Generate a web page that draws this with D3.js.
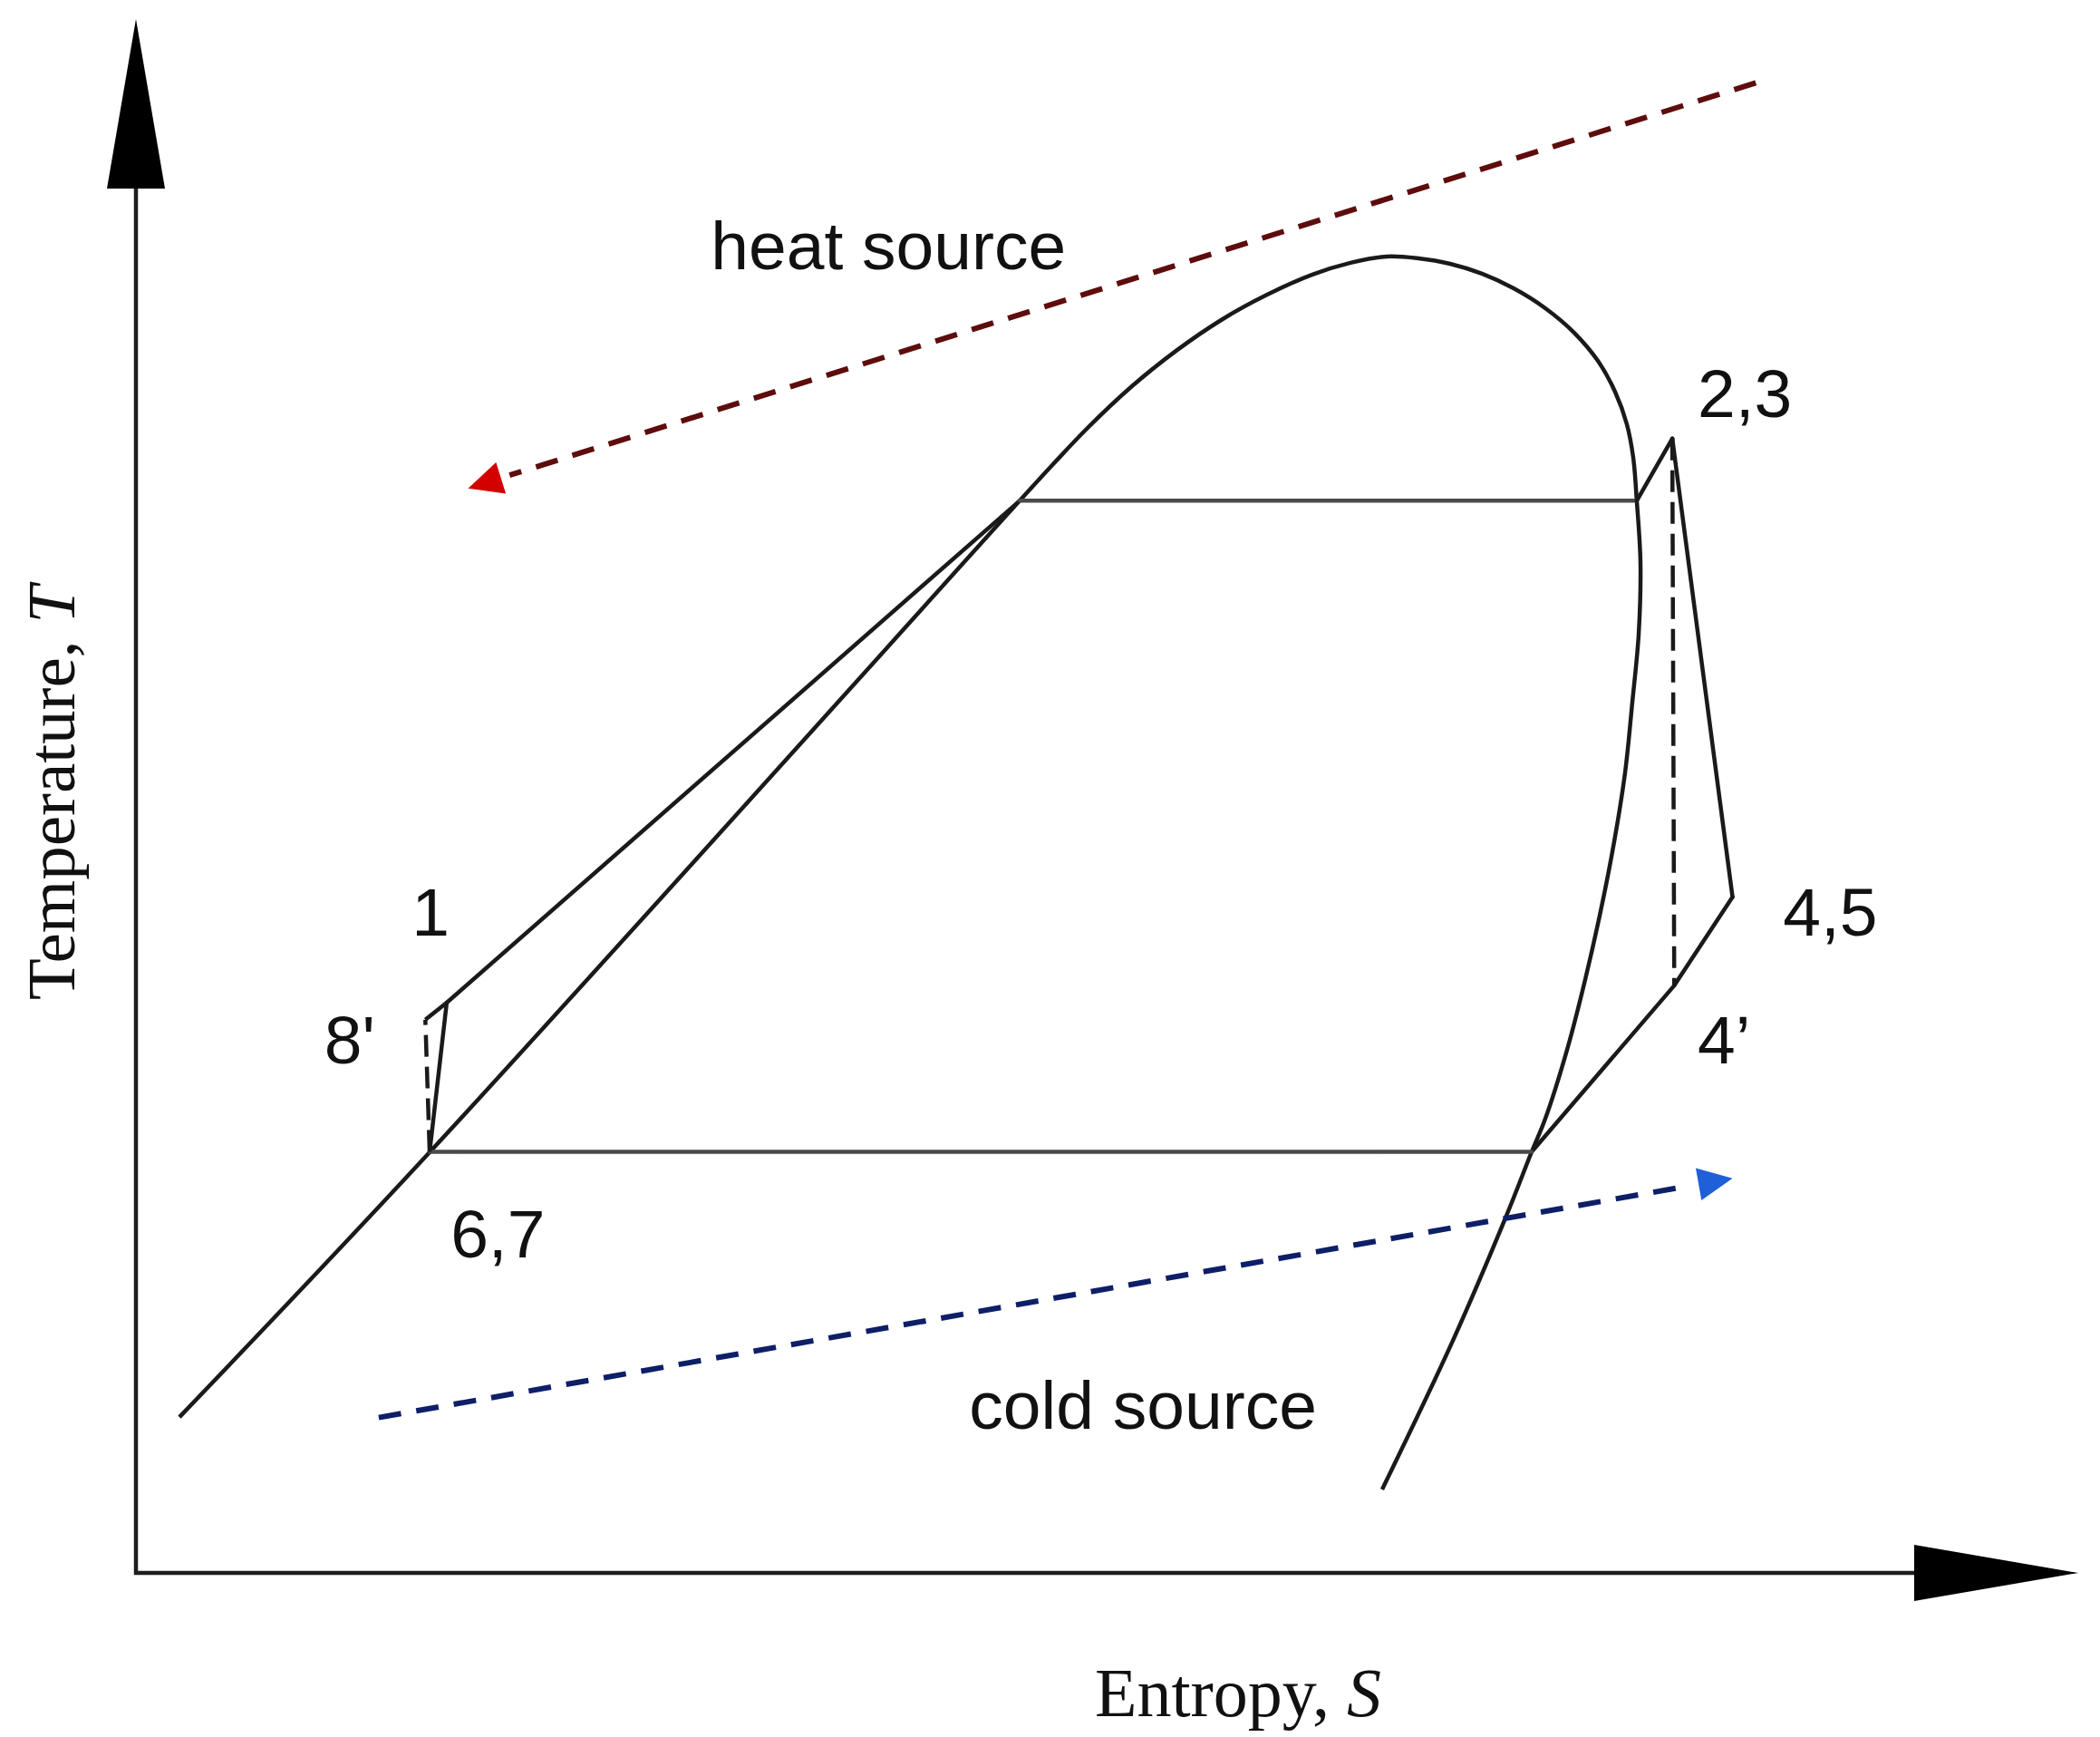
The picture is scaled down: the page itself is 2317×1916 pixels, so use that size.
<!DOCTYPE html>
<html>
<head>
<meta charset="utf-8">
<script src="https://cdn.jsdelivr.net/npm/d3@7"></script>
<style>
  body { margin: 0; background: #fff; }
  text.note { font-family: "Liberation Sans", Arial, sans-serif; font-size: 75px; fill: #111; }
  text.title { font-family: "Liberation Serif", "Times New Roman", serif; fill: #111; }
</style>
</head>
<body>
<svg width="2317" height="1916"></svg>
<script>
// saturation dome (entropy, temperature in arbitrary units 0-100)
const domeS = [2.24, 15.12, 45.5, 47.22, 48.95, 51.28, 53.62, 55.95, 58.24, 60.57, 62.53, 64.4, 66.03, 67.66, 69.3, 70.93, 72.56, 74.05, 75.27, 76.15, 76.76, 77.09, 77.27, 77.46, 77.37, 77.04, 76.67, 76.11, 75.41, 74.61, 73.68, 72.56, 71.86, 70.56, 67.8, 64.16];
const domeT = [10.03, 27.07, 69.0, 71.35, 73.63, 76.37, 78.71, 80.69, 82.26, 83.55, 84.31, 84.72, 84.6, 84.25, 83.61, 82.67, 81.39, 79.81, 78.0, 76.02, 73.92, 71.76, 69.0, 65.05, 60.44, 56.01, 51.52, 47.08, 42.59, 38.16, 33.66, 29.23, 27.1, 22.99, 14.94, 5.37];

// cycle states: 6,7 -> 1 -> evaporation -> 2,3 -> 4,5 -> 4' -> condensation -> 6,7
const cycleS = [15.12, 16.0, 45.5, 77.27, 79.1, 82.2, 79.2, 71.86, 15.12];
const cycleT = [27.1, 36.7, 69.0, 69.0, 73.0, 43.5, 37.8, 27.1, 27.1];

// 8' -> 1 (solid), isentropic references (dashed)
const pumpS = [14.9, 16.0];
const pumpT = [35.6, 36.7];
const isoPumpS = [15.12, 14.9];
const isoPumpT = [27.1, 35.6];
const isoTurbS = [79.1, 79.2];
const isoTurbT = [73.0, 37.8];

// heat / cold source streams (start, tip)
const heatS = [83.4, 17.1];
const heatT = [95.9, 69.8];
const coldS = [12.5, 82.2];
const coldT = [10.0, 25.4];

// state labels
const labelText = ["heat source", "2,3", "1", "8'", "4,5", "4\u2019", "6,7", "cold source"];
const labelS = [29.6, 80.4, 14.2, 9.7, 84.8, 80.4, 16.2, 42.9];
const labelT = [83.9, 74.4, 41.0, 32.8, 41.0, 32.8, 20.3, 9.3];

const svg = d3.select("svg");

const xScale = d3.scaleLinear().domain([0, 100]).range([150, 2293]);
const yScale = d3.scaleLinear().domain([0, 100]).range([1735, 21]);

const line = d3.line()
  .x(d => xScale(d[0]))
  .y(d => yScale(d[1]));

// axes with arrowheads
const axisColor = "#1e1e1e";
svg.append("line")
  .attr("x1", xScale(0)).attr("y1", yScale(0) + 2)
  .attr("x2", xScale(0)).attr("y2", yScale(100) + 180)
  .attr("stroke", axisColor).attr("stroke-width", 4.5);
svg.append("path")
  .attr("d", `M${xScale(0)},${yScale(100)} L${xScale(0) - 32},${yScale(100) + 187} L${xScale(0) + 32},${yScale(100) + 187} Z`)
  .attr("fill", "#000");

svg.append("line")
  .attr("x1", xScale(0) - 2).attr("y1", yScale(0))
  .attr("x2", xScale(100) - 175).attr("y2", yScale(0))
  .attr("stroke", axisColor).attr("stroke-width", 4.5);
svg.append("path")
  .attr("d", `M${xScale(100)},${yScale(0)} L${xScale(100) - 181},${yScale(0) - 31} L${xScale(100) - 181},${yScale(0) + 31} Z`)
  .attr("fill", "#000");

// dome
svg.append("path")
  .datum(d3.zip(domeS, domeT))
  .attr("d", line.curve(d3.curveCatmullRom.alpha(0.5)))
  .attr("fill", "none")
  .attr("stroke", "#1a1a1a")
  .attr("stroke-width", 4.5);

line.curve(d3.curveLinear);

// cycle, one segment at a time (isotherms drawn lighter)
const cyclePts = d3.zip(cycleS, cycleT);
svg.selectAll("path.cycle")
  .data(d3.pairs(cyclePts))
  .enter()
  .append("path")
  .attr("class", "cycle")
  .attr("d", d => line(d))
  .attr("fill", "none")
  .attr("stroke", d => d[0][1] === d[1][1] ? "#4a4a4a" : "#1a1a1a")
  .attr("stroke-width", 4.5)
  .attr("stroke-linecap", "round");

svg.append("path")
  .datum(d3.zip(pumpS, pumpT))
  .attr("d", line)
  .attr("fill", "none")
  .attr("stroke", "#1a1a1a")
  .attr("stroke-width", 4.5);

[[isoPumpS, isoPumpT], [isoTurbS, isoTurbT]].forEach(([s, t]) => {
  svg.append("path")
    .datum(d3.zip(s, t))
    .attr("d", line)
    .attr("fill", "none")
    .attr("stroke", "#1a1a1a")
    .attr("stroke-width", 4.5)
    .attr("stroke-dasharray", "24,11");
});

// dashed source arrows
function dashedArrow(s, t, lineColor, headColor) {
  const x0 = xScale(s[0]), y0 = yScale(t[0]);
  const x1 = xScale(s[1]), y1 = yScale(t[1]);
  const a = Math.atan2(y1 - y0, x1 - x0);
  const len = 38, hw = 18;
  const bx = x1 - len * Math.cos(a), by = y1 - len * Math.sin(a);
  svg.append("line")
    .attr("x1", x0).attr("y1", y0)
    .attr("x2", bx - 10 * Math.cos(a)).attr("y2", by - 10 * Math.sin(a))
    .attr("stroke", lineColor)
    .attr("stroke-width", 6)
    .attr("stroke-dasharray", "25,17");
  const px = -Math.sin(a) * hw, py = Math.cos(a) * hw;
  svg.append("path")
    .attr("d", `M${x1},${y1} L${bx + px},${by + py} L${bx - px},${by - py} Z`)
    .attr("fill", headColor);
}

dashedArrow(heatS, heatT, "#5e0c0c", "#d40000");
dashedArrow(coldS, coldT, "#0e1f68", "#1f5fd8");

// labels
svg.selectAll("text.note")
  .data(labelText)
  .enter()
  .append("text")
  .attr("class", "note")
  .attr("x", (d, i) => xScale(labelS[i]))
  .attr("y", (d, i) => yScale(labelT[i]))
  .text(d => d);

// axis titles
const xTitle = svg.append("text")
  .attr("class", "title")
  .attr("font-size", 76)
  .attr("x", 1208)
  .attr("y", 1893);
xTitle.append("tspan").text("Entropy, ");
xTitle.append("tspan").attr("font-style", "italic").text("S");

const yTitle = svg.append("text")
  .attr("class", "title")
  .attr("font-size", 75)
  .attr("transform", "translate(82,1103) rotate(-90)");
yTitle.append("tspan").text("Temperature, ");
yTitle.append("tspan").attr("font-style", "italic").text("T");
</script>
</body>
</html>
